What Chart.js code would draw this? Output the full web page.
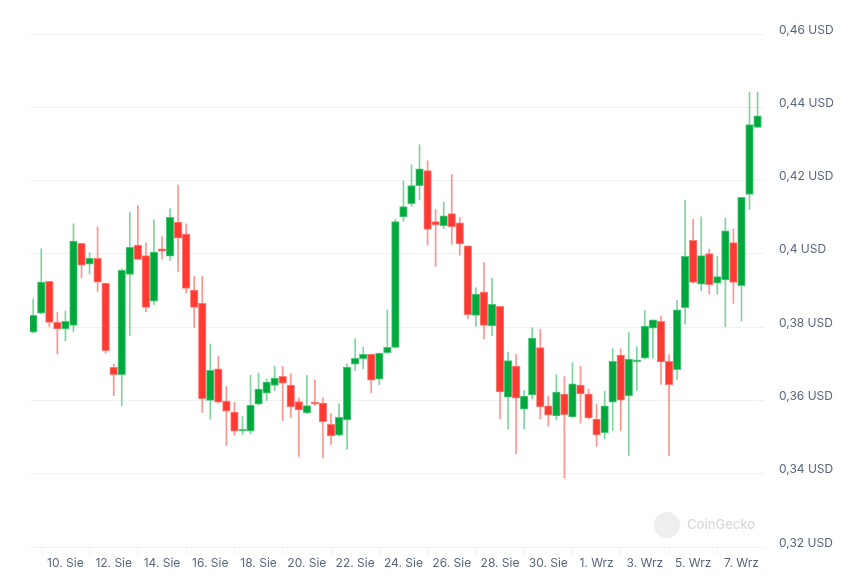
<!DOCTYPE html>
<html>
<head>
<meta charset="utf-8">
<script src="https://cdn.jsdelivr.net/npm/chart.js@4.4.1/dist/chart.umd.min.js"></script>
<style>
  body { margin: 0; background: #fff; }
</style>
</head>
<body>
<canvas id="graf" width="868" height="581"></canvas>
<script>
// 8-hour candles, 8 Aug 16:00 -> 7 Sep 16:00 (index = candle number)
var open = [0.3786, 0.3838, 0.3925, 0.3813, 0.3795, 0.3805, 0.4029, 0.3972, 0.3988, 0.3920,
  0.3690, 0.3670, 0.3944, 0.4024, 0.3995, 0.3871, 0.4014, 0.3994, 0.4087, 0.4054,
  0.3901, 0.3865, 0.3600, 0.3686, 0.3598, 0.3568, 0.3516, 0.3516, 0.3590, 0.3620,
  0.3641, 0.3666, 0.3642, 0.3597, 0.3566, 0.3595, 0.3593, 0.3535, 0.3505, 0.3547,
  0.3699, 0.3714, 0.3726, 0.3658, 0.3730, 0.3745, 0.4101, 0.4137, 0.4186, 0.4227,
  0.4088, 0.4077, 0.4110, 0.4085, 0.4022, 0.3832, 0.3896, 0.3803, 0.3857, 0.3609,
  0.3694, 0.3576, 0.3615, 0.3744, 0.3585, 0.3558, 0.3617, 0.3555, 0.3642, 0.3617,
  0.3549, 0.3512, 0.3595, 0.3724, 0.3612, 0.3705, 0.3715, 0.3797, 0.3816, 0.3707,
  0.3684, 0.3853, 0.4037, 0.3917, 0.4001, 0.3920, 0.3929, 0.4031, 0.3913, 0.4162,
  0.4345];
var high = [0.3877, 0.4014, 0.3925, 0.3841, 0.3844, 0.4082, 0.4029, 0.4003, 0.4074, 0.3920,
  0.3699, 0.3959, 0.4114, 0.4132, 0.4030, 0.4093, 0.4047, 0.4123, 0.4188, 0.4082,
  0.3939, 0.3939, 0.3754, 0.3721, 0.3638, 0.3595, 0.3557, 0.3668, 0.3675, 0.3659,
  0.3693, 0.3693, 0.3673, 0.3607, 0.3668, 0.3656, 0.3607, 0.3564, 0.3591, 0.3700,
  0.3768, 0.3745, 0.3726, 0.3729, 0.3847, 0.4094, 0.4199, 0.4243, 0.4298, 0.4254,
  0.4121, 0.4141, 0.4217, 0.4099, 0.4022, 0.3907, 0.3976, 0.3934, 0.3857, 0.3732,
  0.3725, 0.3627, 0.3798, 0.3794, 0.3612, 0.3670, 0.3665, 0.3703, 0.3693, 0.3631,
  0.3589, 0.3625, 0.3741, 0.3741, 0.3785, 0.3747, 0.3845, 0.3820, 0.3830, 0.3725,
  0.3873, 0.4147, 0.4095, 0.4101, 0.4013, 0.3993, 0.4097, 0.4068, 0.4154, 0.4441,
  0.4441];
var low = [0.3784, 0.3836, 0.3801, 0.3727, 0.3763, 0.3788, 0.3934, 0.3945, 0.3897, 0.3729,
  0.3613, 0.3585, 0.3777, 0.3985, 0.3842, 0.3861, 0.3986, 0.3982, 0.3952, 0.3893,
  0.3799, 0.3567, 0.3549, 0.3593, 0.3477, 0.3505, 0.3507, 0.3509, 0.3588, 0.3600,
  0.3627, 0.3545, 0.3553, 0.3447, 0.3564, 0.3586, 0.3443, 0.3480, 0.3503, 0.3466,
  0.3681, 0.3686, 0.3621, 0.3643, 0.3728, 0.3743, 0.4089, 0.4130, 0.4147, 0.4024,
  0.3966, 0.4069, 0.4026, 0.3996, 0.3823, 0.3802, 0.3768, 0.3777, 0.3550, 0.3523,
  0.3455, 0.3523, 0.3605, 0.3550, 0.3530, 0.3547, 0.3388, 0.3553, 0.3538, 0.3550,
  0.3475, 0.3495, 0.3518, 0.3518, 0.3450, 0.3627, 0.3713, 0.3715, 0.3644, 0.3450,
  0.3657, 0.3808, 0.3920, 0.3899, 0.3890, 0.3890, 0.3801, 0.3865, 0.3817, 0.4121,
  0.4345];
var close = [0.3832, 0.3923, 0.3813, 0.3795, 0.3816, 0.4035, 0.3969, 0.3988, 0.3923, 0.3736,
  0.3670, 0.3955, 0.4018, 0.3985, 0.3854, 0.4005, 0.4007, 0.4100, 0.4043, 0.3906,
  0.3854, 0.3605, 0.3682, 0.3595, 0.3571, 0.3516, 0.3520, 0.3587, 0.3631, 0.3650,
  0.3661, 0.3647, 0.3582, 0.3574, 0.3586, 0.3590, 0.3542, 0.3503, 0.3554, 0.3691,
  0.3715, 0.3726, 0.3655, 0.3729, 0.3745, 0.4088, 0.4129, 0.4186, 0.4232, 0.4067,
  0.4079, 0.4104, 0.4074, 0.4027, 0.3834, 0.3890, 0.3805, 0.3862, 0.3623, 0.3709,
  0.3606, 0.3612, 0.3770, 0.3582, 0.3560, 0.3623, 0.3561, 0.3645, 0.3618, 0.3552,
  0.3506, 0.3585, 0.3707, 0.3601, 0.3713, 0.3710, 0.3803, 0.3820, 0.3705, 0.3643,
  0.3847, 0.3993, 0.3922, 0.3995, 0.3916, 0.3938, 0.4063, 0.3922, 0.4154, 0.4353,
  0.4377];

// x-axis labels every 2 days (candle index of midnight)
var dayTicks = [4, 10, 16, 22, 28, 34, 40, 46, 52, 58, 64, 70, 76, 82, 88];
var dayLabels = ["10. Sie", "12. Sie", "14. Sie", "16. Sie", "18. Sie", "20. Sie", "22. Sie",
  "24. Sie", "26. Sie", "28. Sie", "30. Sie", "1. Wrz", "3. Wrz", "5. Wrz", "7. Wrz"];
var priceTicks = [0.32, 0.34, 0.36, 0.38, 0.40, 0.42, 0.44, 0.46];

var GREEN = "#00a83e", RED = "#ff3a33";

var bodies = [], wicks = [], bodyCol = [], bodyBorder = [], wickCol = [];
for (var i = 0; i < open.length; i++) {
  var up = close[i] >= open[i];
  bodies.push({ x: i, y: [open[i], close[i]] });
  wicks.push({ x: i, y: [low[i], high[i]] });
  bodyCol.push(up ? GREEN : RED);
  bodyBorder.push(up ? "rgba(60,195,110,0.9)" : "rgba(255,110,105,0.9)");
  wickCol.push(up ? "rgba(0,168,62,0.5)" : "rgba(255,58,51,0.55)");
}

// faint CoinGecko watermark
var watermark = {
  id: "watermark",
  beforeDatasetsDraw: function (chart) {
    var ctx = chart.ctx, a = chart.chartArea;
    var cx = a.right - 97, cy = a.bottom - 22;
    ctx.save();
    ctx.fillStyle = "#eeeeee";
    ctx.beginPath();
    ctx.arc(cx, cy, 13, 0, Math.PI * 2);
    ctx.fill();
    ctx.fillStyle = "#d9d9d9";
    ctx.font = "500 13px Inter";
    ctx.textBaseline = "middle";
    ctx.fillText("CoinGecko", cx + 20, cy);
    ctx.restore();
  }
};

new Chart(document.getElementById("graf"), {
  type: "bar",
  data: {
    datasets: [{
      data: bodies,
      backgroundColor: bodyCol,
      borderColor: bodyBorder,
      borderWidth: 1,
      borderSkipped: false,
      barThickness: 7.6,
      minBarLength: 2,
      grouped: false,
      order: 1
    }, {
      data: wicks,
      backgroundColor: wickCol,
      borderWidth: 0,
      barThickness: 1,
      grouped: false,
      order: 2
    }]
  },
  options: {
    responsive: false,
    animation: false,
    layout: { padding: { left: 30, top: 34, right: 0, bottom: 0 } },
    plugins: { legend: { display: false }, tooltip: { enabled: false } },
    scales: {
      x: {
        type: "linear",
        min: -0.4,
        max: 90.8,
        offset: false,
        grid: { drawOnChartArea: false, drawTicks: true, tickLength: 8, color: "#eff2f5" },
        border: { display: true, color: "#eff2f5" },
        afterBuildTicks: function (s) { s.ticks = dayTicks.map(function (v) { return { value: v }; }); },
        afterFit: function (s) { s.height = 34; },
        ticks: {
          autoSkip: false,
          maxRotation: 0,
          padding: 1,
          color: "#58667e",
          font: { family: "Inter", size: 12 },
          callback: function (v) { return dayLabels[dayTicks.indexOf(v)]; }
        }
      },
      y: {
        position: "right",
        min: 0.32,
        max: 0.46,
        grid: { drawTicks: false, color: "#eff2f5" },
        border: { display: false },
        afterBuildTicks: function (s) { s.ticks = priceTicks.map(function (v) { return { value: v }; }); },
        afterFit: function (s) { s.width = 104; },
        ticks: {
          padding: 15,
          labelOffset: -4,
          color: "#58667e",
          font: { family: "Inter", size: 12 },
          callback: function (v) { return String(+v.toFixed(2)).replace(".", ",") + " USD"; }
        }
      }
    }
  },
  plugins: [watermark]
});
</script>
</body>
</html>
